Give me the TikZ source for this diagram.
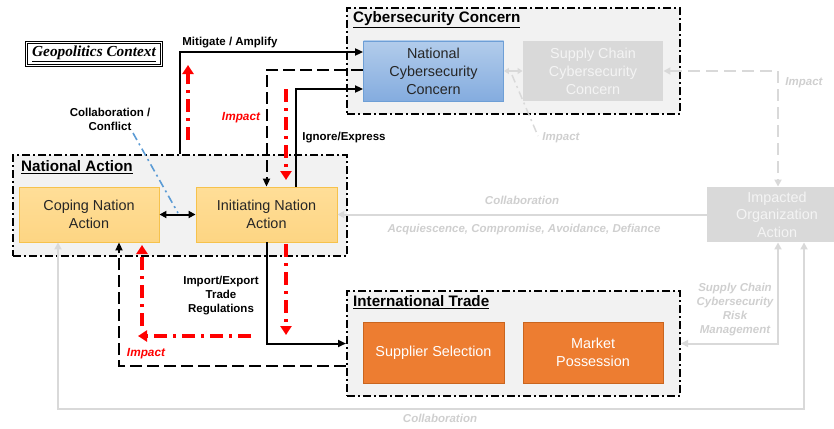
\documentclass[tikz,border=0pt]{standalone}
\usepackage{fontspec}
\setmainfont{Liberation Sans}
\newfontfamily\geofont{Liberation Serif}
\usetikzlibrary{arrows.meta,calc}

\definecolor{grpfill}{HTML}{F2F2F2}
\definecolor{blueTop}{HTML}{B2CCEB}
\definecolor{blueBot}{HTML}{84ACDF}
\definecolor{blueEdge}{HTML}{6E9FD6}
\definecolor{yelTop}{HTML}{FFDE98}
\definecolor{yelBot}{HTML}{FDD583}
\definecolor{yelEdge}{HTML}{F6C24C}
\definecolor{orgFill}{HTML}{ED7D31}
\definecolor{orgEdge}{HTML}{C9651F}
\definecolor{lgray}{HTML}{D9D9D9}
\definecolor{ltext}{HTML}{CFCFCF}
\definecolor{boxtext}{HTML}{F4F4F4}
\definecolor{redline}{HTML}{FF0000}
\definecolor{bluedash}{HTML}{5B9BD5}

\begin{document}
\begin{tikzpicture}[x=1pt,y=-1pt,
  every node/.style={inner sep=0pt},
  grp/.style={draw=black, fill=grpfill, line width=2pt,
    dash pattern=on 8pt off 3pt on 2pt off 3pt},
  grptitle/.style={anchor=west, font=\fontsize{15.2}{17}\selectfont\bfseries},
  box/.style={minimum width=140pt, minimum height=55pt, align=center,
    font=\fontsize{14.4}{18}\selectfont, line width=0.9pt},
  bluebox/.style={box, draw=blueEdge, top color=blueTop, bottom color=blueBot, text=black!85},
  yelbox/.style={box, draw=yelEdge, top color=yelTop, bottom color=yelBot, text=black!85},
  orgbox/.style={box, draw=orgEdge, fill=orgFill, text=white},
  graybox/.style={box, fill=lgray, text=boxtext},
  lbl/.style={align=center, font=\fontsize{11.5}{14}\selectfont\bfseries},
  glbl/.style={lbl, text=ltext, font=\fontsize{11.5}{14}\selectfont\bfseries\itshape},
  rlbl/.style={lbl, text=redline, font=\fontsize{11.8}{14}\selectfont\bfseries\itshape},
  blk/.style={draw=black, line width=2pt},
  bdash/.style={blk, dash pattern=on 12pt off 5pt},
  btip/.style={-{Triangle[length=8pt,width=7pt]}},
  bboth/.style={{Triangle[length=7pt,width=7pt]}-{Triangle[length=7pt,width=7pt]}},
  gline/.style={draw=lgray, line width=2pt},
  gdash/.style={gline, dash pattern=on 12pt off 6pt},
  gboth/.style={{Triangle[length=7pt,width=7pt]}-{Triangle[length=7pt,width=7pt]}},
  rdash/.style={draw=redline, line width=3.2pt,
    dash pattern=on 13pt off 6pt on 3pt off 6pt,
    -{Triangle[length=9pt,width=11pt]}}
]
\useasboundingbox (0,0) rectangle (834,428);

% ---- group frames ----
\node[grp, minimum width=333pt, minimum height=106pt] (cyg) at (513.5,61) {};
\node[grp, minimum width=334pt, minimum height=101pt] (natg) at (180,205.5) {};
\node[grp, minimum width=333pt, minimum height=105pt] (trg) at (513.5,343.5) {};

\node[grptitle] (cygt) at (353,20) {\underline{Cybersecurity Concern}};
\node[grptitle] (natgt) at (21,167) {\underline{National Action}};
\node[grptitle] (trgt) at (353,302) {\underline{International Trade}};

% ---- title box ----
\node[draw, double, double distance=1.6pt, line width=0.9pt,
  minimum width=135pt, minimum height=23pt,
  font=\geofont\bfseries\itshape\fontsize{15.3}{17}\selectfont] (geo) at (94,54)
  {\underline{Geopolitics Context}};

% ---- boxes ----
\node[bluebox, minimum height=60pt] (ncc) at (433.5,71) {National\\Cybersecurity\\Concern};
\node[graybox, minimum height=60pt] (scc) at (593,71) {Supply Chain\\Cybersecurity\\Concern};
\node[yelbox] (cope) at (89,214.5) {Coping Nation\\Action};
\node[yelbox, minimum width=141pt] (ina) at (266.5,214.5) {Initiating Nation\\Action};
\node[graybox, font=\fontsize{14.4}{17.5}\selectfont] (imp) at (777,214.5) {Impacted\\Organization\\Action};
\node[orgbox, minimum width=141pt, minimum height=61pt] (sup) at (433.5,352.5) {Supplier Selection};
\node[orgbox, minimum height=61pt] (mkt) at (593,352.5) {Market\\Possession};

% ---- gray connectors ----
\draw[gline, -{Triangle[length=7pt,width=7pt]}] (imp.west) -- (ina.east);
\draw[gline, gboth] ([xshift=-31pt]cope.south) -- ++(0,167) -| ([xshift=27pt]imp.south);
\draw[gline, gboth] ([xshift=1pt]imp.south) |- (trg.east);
\draw[gdash, gboth] (scc.east) -| ([xshift=1pt]imp.north);
\draw[gline, line width=1.5pt, {Triangle[length=5pt,width=6pt]}-{Triangle[length=5pt,width=6pt]}] (ncc.east) -- (scc.west);
\coordinate (gi1) at (512,75);
\coordinate (gi2) at (538,136);
\draw[gline, line width=1.5pt, dash pattern=on 8pt off 4pt on 2pt off 4pt] (gi1) -- (gi2);

% ---- black connectors ----
\draw[blk, btip] (natg.north) |- ([yshift=19pt]ncc.west);
\draw[blk, btip] ([xshift=29.5pt]ina.north) |- ([yshift=-18pt]ncc.west);
\draw[bdash, btip] ([yshift=1pt]ncc.west) -| (ina.north);
\draw[blk, btip] (ina.south) |- (trg.west);
\draw[bdash, btip] ([yshift=-22.5pt]trg.west) -| ([xshift=30pt]cope.south);
\draw[blk, bboth] (cope.east) -- (ina.west);

% ---- collaboration / conflict link ----
\coordinate (cc1) at (133,133);
\coordinate (cc2) at (178,213);
\draw[draw=bluedash, line width=1.6pt, dash pattern=on 8pt off 4pt on 2pt off 4pt] (cc1) -- (cc2);

% ---- impact arrows ----
\coordinate (ra1) at (188,140);
\coordinate (ra2) at (188,65);
\draw[rdash] (ra1) -- (ra2);
\coordinate (rb1) at (286,89);
\coordinate (rb2) at (286,180);
\draw[rdash] (rb1) -- (rb2);
\coordinate (rc1) at (286,244);
\coordinate (rc2) at (286,335);
\draw[rdash] (rc1) -- (rc2);
\coordinate (rd1) at (251,336);
\coordinate (rd2) at (138,336);
\draw[rdash] (rd1) -- (rd2);
\coordinate (re1) at (142,326);
\coordinate (re2) at (142,245);
\draw[rdash] (re1) -- (re2);

% ---- labels ----
\node[lbl] (lmit) at (230,43) {Mitigate / Amplify};
\node[lbl] (lign) at (344,138) {Ignore/Express};
\node[lbl] (lcol) at (110,119) {Collaboration /\\Conflict};
\node[lbl] (limp) at (221,296) {Import/Export\\Trade\\Regulations};
\node[rlbl] (rimp1) at (241,118) {Impact};
\node[rlbl] (rimp2) at (146,354) {Impact};
\node[glbl] (gcol1) at (522,200) {Collaboration};
\node[glbl] (gacq) at (524,230) {Acquiescence, Compromise, Avoidance, Defiance};
\node[glbl] (gcol2) at (440,418) {Collaboration};
\node[glbl] (gimp1) at (561,138) {Impact};
\node[glbl] (gimp2) at (804,83) {Impact};
\node[glbl] (gscrm) at (735,310) {Supply Chain\\Cybersecurity\\Risk\\Management};
\end{tikzpicture}
\end{document}
